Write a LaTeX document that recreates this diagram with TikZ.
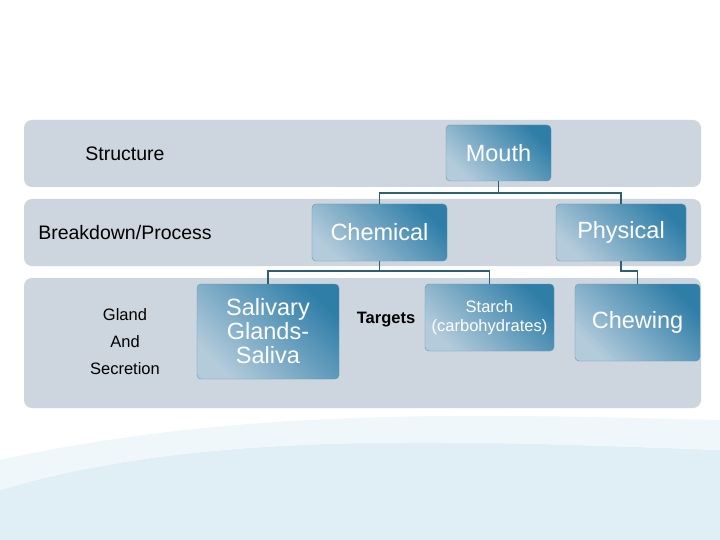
\documentclass[tikz,border=0pt]{standalone}
\usepackage{fontspec}
\setmainfont{Liberation Sans}
\begin{document}
\begin{tikzpicture}[x=1pt,y=-1pt,
  band/.style={fill=bandgray,rounded corners=8pt,draw=none},
  bbox/.style={rounded corners=4pt,left color=boxlight,right color=boxdark,shading angle=135,draw=boxdark!80,line width=0.4pt,text=white,align=center,inner sep=0pt},
  conn/.style={draw=connc,line width=1.3pt},
  lab/.style={font=\fontsize{19.5}{22}\selectfont,text=black}]
\definecolor{bandgray}{HTML}{CDD6DE}
\definecolor{boxlight}{HTML}{B3CBDB}
\definecolor{boxdark}{HTML}{2F7EA8}
\definecolor{connc}{HTML}{2E6074}
\definecolor{wave}{HTML}{E0EFF5}
\useasboundingbox (0,0) rectangle (720,540);
\fill[white] (0,0) rectangle (720,540);
\fill[wave] (0,490) .. controls (200,430) and (450,440) .. (720,450) -- (720,540) -- (0,540) -- cycle;
\fill[wave!50!white] (0,460) .. controls (250,405) and (500,415) .. (720,420) -- (720,450) .. controls (450,440) and (200,430) .. (0,490) -- cycle;
\fill[band] (24,120) rectangle (701,187);
\fill[band] (24,199) rectangle (701,266);
\fill[band] (24,278) rectangle (701,408);
\node[lab] (structure) at (125,154) {Structure};
\node[lab] (breakdown) at (125,233) {Breakdown/Process};
\node[lab,align=center,font=\fontsize{16.5}{27}\selectfont] (gland) at (125,342) {Gland\\And\\Secretion};
\node[bbox,minimum width=105pt,minimum height=56pt,font=\fontsize{23.5}{26}\selectfont] (mouth) at (498.5,153) {Mouth};
\node[bbox,minimum width=135pt,minimum height=57pt,font=\fontsize{23.5}{26}\selectfont] (chem) at (379.5,232.5) {Chemical};
\node[bbox,minimum width=130pt,minimum height=57pt,font=\fontsize{23.5}{26}\selectfont] (phys) at (621,232.5) {Physical};
\node[bbox,minimum width=142pt,minimum height=95pt,font=\fontsize{23.5}{24}\selectfont] (saliva) at (268,331.5) {Salivary\\Glands-\\Saliva};
\node[bbox,minimum width=129pt,minimum height=67pt,font=\fontsize{16.5}{19}\selectfont] (starch) at (489.5,317.5) {Starch\\(carbohydrates)};
\node[bbox,minimum width=125pt,minimum height=77pt,font=\fontsize{23.5}{26}\selectfont] (chew) at (637.5,322.5) {Chewing};
\node[font=\bfseries\fontsize{16.5}{18}\selectfont] (targets) at (386,320) {Targets};
\coordinate (j1) at (498.5,193);
\coordinate (j2) at (379.5,271);
\draw[conn] (mouth.south) -- (j1) -| (chem.north);
\draw[conn] (j1) -| (phys.north);
\draw[conn] (chem.south) -- (j2) -| (saliva.north);
\draw[conn] (j2) -| (starch.north);
\draw[conn] (phys.south) |- (637.5,271) -- (chew.north);
\end{tikzpicture}
\end{document}
